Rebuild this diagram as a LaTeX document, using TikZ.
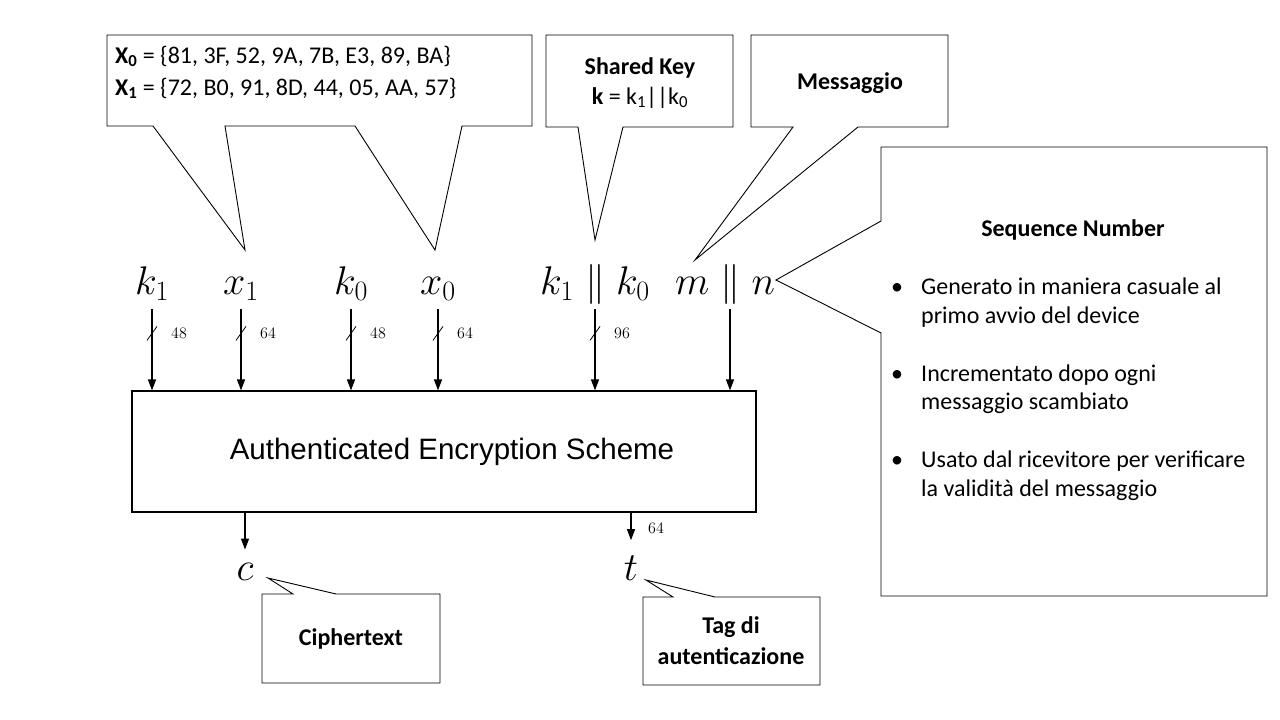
\RequirePackage{fix-cm}
\documentclass[tikz,border=0pt]{standalone}
\usepackage[no-math]{fontspec}
\setmainfont{Carlito}
\newfontfamily\boxfont{Liberation Sans}
\usetikzlibrary{arrows.meta,calc}

\tikzset{
  callout/.style={draw, line width=0.9pt, fill=white},
  arr/.style={line width=1.3pt, -{Triangle[length=11pt,width=8pt]}},
  bits/.style={anchor=west, inner sep=0pt, font=\fontsize{16}{16}\selectfont},
  sym/.style={anchor=base, inner sep=0pt, font=\fontsize{40}{40}\selectfont},
  txt/.style={inner sep=0pt, font=\fontsize{24}{29}\selectfont},
}

\begin{document}
\begin{tikzpicture}[x=1pt, y=-1pt] % pixel grid, y going down
  \useasboundingbox (0,0) rectangle (1280,720);

  % Callouts (drawn first, tips point at the symbols)
  \draw[callout] (107,35) -- (532,35) -- (532,126) -- (462,126) -- (435,250) -- (355,126)
    -- (225,126) -- (245,250) -- (153,126) -- (107,126) -- cycle; % X0 / X1
  \draw[callout] (546,35) -- (733,35) -- (733,127) -- (623,127) -- (595,240) -- (578,127)
    -- (546,127) -- cycle; % shared key
  \draw[callout] (751,35) -- (948,35) -- (948,127) -- (858,127) -- (695,260) -- (793,127)
    -- (751,127) -- cycle; % messaggio
  \draw[callout] (881,147) -- (1267,147) -- (1267,596) -- (881,596) -- (881,333)
    -- (776,280) -- (881,221) -- cycle; % sequence number
  \draw[callout] (262,594) -- (293,594) -- (268,578) -- (336,594) -- (440,594)
    -- (440,683) -- (262,683) -- cycle; % ciphertext
  \draw[callout] (643,597) -- (673,597) -- (646,580) -- (715,597) -- (820,597)
    -- (820,685) -- (643,685) -- cycle; % tag

  % Callout texts
  \node[txt, anchor=base west] (xa) at (115,63) {\textbf{X\textsubscript{0}} = \{81, 3F, 52, 9A, 7B, E3, 89, BA\}};
  \node[txt, anchor=base west] (xb) at (115,95) {\textbf{X\textsubscript{1}} = \{72, B0, 91, 8D, 44, 05, AA, 57\}};
  \node[txt, anchor=base] (sk) at (640,74) {\textbf{Shared Key}};
  \node[txt, anchor=base] (kd) at (640,104) {\textbf{k} = k\textsubscript{1}||k\textsubscript{0}};
  \node[txt, anchor=base] (msg) at (850,89) {\textbf{Messaggio}};
  \node[txt, anchor=base] (seq) at (1073,236) {\textbf{Sequence Number}};
  \node[txt, anchor=base] (ct) at (351,645) {\textbf{Ciphertext}};
  \node[txt, anchor=base] (tg) at (731,633) {\textbf{Tag di}};
  \node[txt, anchor=base] (au) at (731,664) {\textbf{autenticazione}};

  % Bullets of the sequence number box
  \foreach \Y [count=\i] in {294,381,467} {
    \node[txt, anchor=base] (b\i) at (897,\Y) {•};
  }
  \foreach \Y/\S [count=\i] in {294/Generato in maniera casuale al, 323/primo avvio del device,
      381/Incrementato dopo ogni, 409/messaggio scambiato,
      467/Usato dal ricevitore per verificare, 496/la validità del messaggio} {
    \node[txt, anchor=base west] (l\i) at (921,\Y) {\S};
  }

  % Inputs
  \node[sym] (k1) at (152,294) {$k_1$};
  \node[sym] (x1) at (241,294) {$x_1$};
  \node[sym] (k0) at (351,294) {$k_0$};
  \node[sym] (x0) at (438,294) {$x_0$};
  \node[sym] (kk) at (595,294) {$k_1\parallel k_0$};
  \node[sym] (mn) at (725,294) {$m\parallel n$};

  \node[draw, line width=1.2pt, minimum width=624pt, minimum height=121pt,
    font=\boxfont\fontsize{29.5}{29.5}\selectfont] (aes) at (444,451.5) {\hspace*{16pt}Authenticated Encryption Scheme};

  % Input arrows with bit widths
  \foreach \N/\B in {k1/48, x1/64, k0/48, x0/64, kk/96} {
    \draw[arr] ([yshift=-15pt]\N.base) -- (\N.base |- aes.north);
    \coordinate (s\N) at ($(\N.base |- aes.north)+(0,-57)$); % slash mark
    \draw[line width=0.8pt] ($(s\N)+(-5,7)$) -- ($(s\N)+(5,-7)$);
    \node[bits] (w\N) at ($(s\N)+(19,0)$) {$\B$};
  }
  \draw[arr] ([xshift=5pt,yshift=-15pt]mn.base) -- ([xshift=5pt]mn.base |- aes.north);

  % Outputs
  \node[sym] (c) at (245,580) {$c$};
  \node[sym] (t) at (631,580) {$t$};
  \draw[arr] (aes.south -| c) -- ([yshift=13pt]c.north);
  \draw[arr] (aes.south -| t) -- ([yshift=15pt]t.north);
  \node[bits] (wt) at (648,528) {$64$};
\end{tikzpicture}
\end{document}
